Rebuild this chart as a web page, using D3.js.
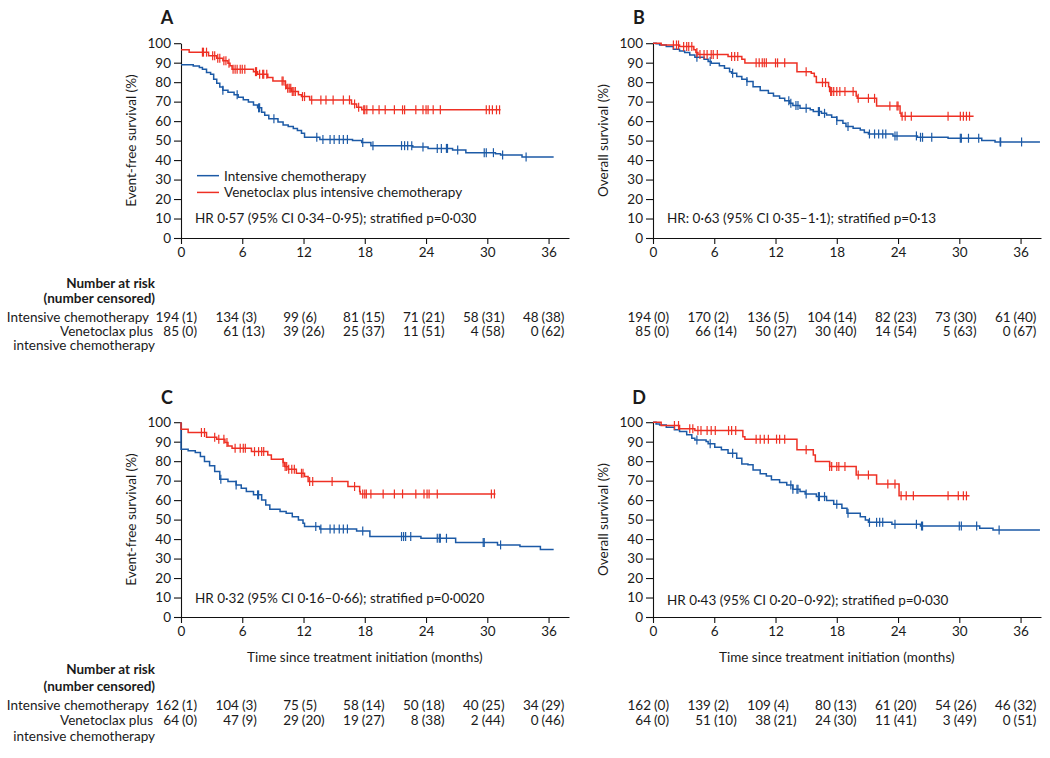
<!DOCTYPE html>
<html><head><meta charset="utf-8">
<script src="https://cdn.jsdelivr.net/npm/d3@7"></script>
<style>
body{margin:0;background:#fff;}
svg text{font-family:Lato,"Open Sans",sans-serif;fill:#1a1a1a;}
</style></head>
<body>
<svg id="chart" width="1050" height="758"></svg>
<script>
// ---------- DATA ----------
const xTicks = [0, 6, 12, 18, 24, 30, 36];
const yTicks = [0, 10, 20, 30, 40, 50, 60, 70, 80, 90, 100];
const groupNames = ["Intensive chemotherapy", "Venetoclax plus intensive chemotherapy"];

// Panel A: event-free survival, all patients
const A_chemoSteps = [[0,89],[1.2,88.3],[1.8,87.5],[2.1,86.6],[2.5,85],[2.9,84],[3.2,81.5],[3.5,79.5],[3.8,77.5],[4.1,75.8],[4.6,74.8],[5.2,73.5],[5.6,72.3],[6.1,71],[6.6,69.8],[7.1,68.3],[7.5,66.8],[7.9,64.5],[8.2,63],[8.6,61.2],[9.5,59.5],[10,58],[10.5,57.2],[11,56.2],[11.4,55.2],[11.8,53.8],[12.1,51.7],[13.6,50.6],[16.8,50],[17.7,49],[18.6,47.4],[22.7,46.7],[24.2,46],[26.6,45.2],[27.9,43.8],[30.8,43.2],[31.3,42.6],[33.4,41.6]];
const A_chemoEnd = 36.5;
const A_chemoCens = [4.1,5.5,7.6,7.7,9.1,13.3,13.9,14.6,15.0,15.5,15.9,16.3,17.8,18.8,21.6,21.9,22.2,22.6,23.7,25.1,25.5,26.0,26.1,27.1,29.7,29.9,30.6,31.5,33.8];
const A_venSteps = [[0,96.6],[0.8,95.4],[2.7,93.5],[3.5,92.3],[4.1,91],[4.6,89.7],[4.8,88.4],[5.0,86.6],[7.1,85.4],[7.5,84],[8.5,82.4],[9.0,80.6],[10.2,78.6],[10.3,76.9],[10.8,75.2],[11.5,73.5],[11.8,72.6],[12.6,70.9],[16.7,68.8],[17.2,67.1],[17.7,65.8]];
const A_venEnd = 31.3;
const A_venCens = [2.1,2.2,2.5,3.1,3.3,3.6,3.8,4.2,4.4,4.7,5.1,5.3,5.5,5.8,6.0,6.25,7.3,7.4,7.7,8.0,8.1,8.4,9.9,10.0,10.25,10.45,10.6,10.75,10.9,11.05,11.2,11.9,12.1,12.8,13.7,14.2,14.9,15.9,16.5,17.0,17.4,17.9,18.0,18.2,18.8,19.4,20.0,20.9,21.7,21.9,23.0,23.7,24.0,24.2,24.7,25.4,29.9,30.2,30.5,30.9,31.2];

// Panel B: overall survival, all patients
const B_chemoSteps = [[0,100],[0.3,99.7],[0.65,99.1],[1.3,98.3],[2.0,96.9],[2.6,96],[3.1,95.2],[3.6,94],[4.1,92.8],[5.0,91.8],[5.4,90.6],[5.7,89.7],[6.5,88.4],[7.0,87.2],[7.5,85.4],[7.7,84.6],[8.2,82.9],[8.7,81.5],[9.2,80.3],[9.8,77.7],[10.5,75.7],[11.3,74.3],[11.8,72.9],[12.4,71.7],[12.9,70.5],[13.4,69.2],[13.7,68],[14.4,66.6],[15.4,65.8],[15.7,64.9],[16.5,64],[17,63.2],[17.5,62],[18,60.3],[18.6,58.9],[18.9,57.2],[19.6,56.3],[20.3,55.5],[20.7,54.1],[21.1,53.4],[23.5,52.4],[25.9,51.7],[28.9,51.2],[32.2,50],[33.5,49.3]];
const B_chemoEnd = 37.9;
const B_chemoCens = [4.3,5.6,7.8,9.2,13.3,13.5,14.0,14.2,15.0,16.2,16.3,16.8,18.0,19.1,21.2,21.7,22.1,22.5,22.8,23.7,23.9,25.8,26.2,26.4,27.3,30.1,30.2,30.9,31.9,34.0,34.05,36.1];
const B_venSteps = [[0,100],[0.8,99.1],[2.6,98.3],[4.0,96.6],[4.2,95.2],[4.4,94.2],[7.35,93.2],[8.7,91.8],[9.0,89.9],[14.1,85.4],[15.5,84.6],[15.8,82.9],[16.0,79.8],[17.2,77.7],[17.3,75.2],[19.9,72.9],[20.0,71.7],[21.9,67.8],[24.2,64],[24.3,62.5]];
const B_venEnd = 31.4;
const B_venCens = [2.0,2.3,2.5,3.0,3.3,3.5,3.8,4.3,4.6,5.0,5.3,5.7,5.9,6.3,7.7,8.0,8.3,10.1,10.4,10.7,10.9,11.1,12.0,12.2,12.9,15.0,16.6,16.9,17.4,17.5,17.7,18.0,18.3,18.8,19.6,20.1,21.1,21.7,23.2,23.9,24.0,24.4,24.7,25.3,28.9,30.1,30.4,30.7,31.0];

// Panel C: event-free survival, subgroup
const C_chemoSteps = [[0,100],[0,86.1],[0.7,85.4],[1.4,84.4],[1.9,82.4],[2.3,79.8],[2.8,77.6],[3.3,74.7],[3.8,70.7],[4.6,69.5],[5.4,67.8],[5.9,66.1],[6.4,64.4],[7.1,62.7],[7.9,60.1],[8.3,57.5],[8.7,55.3],[9.7,54.1],[10.3,53.3],[10.9,51.5],[11.5,49.8],[11.95,48.1],[12.1,46.4],[13.6,45.2],[17.2,44.2],[18.5,41.3],[23.5,40.4],[26.9,38.2],[31,37],[33.2,36.2],[35.2,34.6]];
const C_chemoEnd = 36.5;
const C_chemoCens = [3.9,5.4,7.5,7.6,13.2,13.7,14.6,15.0,15.5,15.9,16.3,17.8,21.6,21.8,22.0,22.5,25.1,25.3,25.4,26.0,29.6,29.7,31.3];
const C_venSteps = [[0,100],[0,96.4],[0.7,94.7],[2.5,92.3],[3.5,91.3],[4.3,89.6],[4.6,87.8],[5.0,86.6],[6.9,84.9],[8.5,83.2],[8.85,81.0],[10.0,79.3],[10.15,77.2],[10.5,75.8],[11.3,73.8],[12.1,72.1],[12.45,69.5],[16.35,67],[17.5,64.4],[17.55,63.2]];
const C_venEnd = 30.8;
const C_venCens = [2.0,2.3,3.3,3.7,4.2,4.5,5.3,5.8,6.1,6.3,7.2,7.6,7.9,8.1,10.0,10.2,10.35,10.55,10.85,11.1,11.8,11.95,12.6,12.9,14.8,17.0,17.8,18.0,18.15,18.6,19.8,20.9,21.7,23.0,23.8,24.1,24.3,25.1,30.4,30.7];

// Panel D: overall survival, subgroup
const D_chemoSteps = [[0,100],[0.3,99.1],[0.65,98.6],[1.3,97.4],[2.1,96.1],[2.6,95.2],[3.3,93.5],[3.8,91.8],[4.1,90.9],[5.2,90.1],[5.4,88.9],[6.05,87.2],[6.7,85.8],[7.35,84.1],[8.2,81.5],[8.7,78.6],[9.3,78.1],[9.8,75.5],[10.5,73.5],[11.1,72.4],[11.6,70.4],[12.4,69],[13.1,67.8],[13.7,65.6],[14.4,64.4],[14.9,63.2],[16.0,61.8],[17.0,59.8],[17.7,57.9],[18.5,55.8],[19,53.3],[20.3,51.5],[20.8,49.8],[21.1,48.6],[23.4,47.6],[26.2,46.7],[32,45.5],[33.3,44.7]];
const D_chemoEnd = 37.9;
const D_chemoCens = [4.3,5.6,7.8,13.5,13.7,14.1,14.2,15.0,16.2,16.3,16.8,18.0,19.1,21.2,21.9,22.2,22.5,23.7,25.8,26.3,26.4,30.0,30.2,31.7,33.9];
const D_venSteps = [[0,100],[0.8,98.3],[2.6,96.6],[4.1,95.7],[8.8,92.5],[9.0,91.3],[14.1,85.8],[15.7,83.2],[15.9,79.8],[17.3,77.2],[19.9,72.9],[21.9,68.3],[24.1,62.2]];
const D_venEnd = 31.0;
const D_venCens = [2.1,2.5,3.6,3.9,4.4,4.7,5.3,5.7,6.1,7.4,7.7,8.1,10.1,10.5,10.9,11.3,12.1,12.4,12.9,15.0,17.3,17.5,18.0,18.2,18.8,20.1,21.1,23.0,23.7,24.3,24.8,25.5,28.9,29.9,30.4,30.7];

// Numbers at risk (number censored) at 0,6,...,36 months
const A_riskChemo = [[194,1],[134,3],[99,6],[81,15],[71,21],[58,31],[48,38]];
const A_riskVen   = [[85,0],[61,13],[39,26],[25,37],[11,51],[4,58],[0,62]];
const B_riskChemo = [[194,0],[170,2],[136,5],[104,14],[82,23],[73,30],[61,40]];
const B_riskVen   = [[85,0],[66,14],[50,27],[30,40],[14,54],[5,63],[0,67]];
const C_riskChemo = [[162,1],[104,3],[75,5],[58,14],[50,18],[40,25],[34,29]];
const C_riskVen   = [[64,0],[47,9],[29,20],[19,27],[8,38],[2,44],[0,46]];
const D_riskChemo = [[162,0],[139,2],[109,4],[80,13],[61,20],[54,26],[46,32]];
const D_riskVen   = [[64,0],[51,10],[38,21],[24,30],[11,41],[3,49],[0,51]];

const hrTexts = {
  A: "HR 0·57 (95% CI 0·34–0·95); stratified p=0·030",
  B: "HR: 0·63 (95% CI 0·35–1·1); stratified p=0·13",
  C: "HR 0·32 (95% CI 0·16–0·66); stratified p=0·0020",
  D: "HR 0·43 (95% CI 0·20–0·92); stratified p=0·030"
};

// ---------- DRAWING ----------
const BLUE = "#1c5aa6", RED = "#ee3024";
const svg = d3.select("#chart");
const FS = 13.5;

function survAt(steps, t) {
  let v = steps[0][1];
  for (const s of steps) { if (s[0] <= t) v = s[1]; else break; }
  return v;
}

function panel(cfg) {
  const g = svg.append("g");
  const x = d3.scaleLinear().domain([0, 38]).range([cfg.x0, cfg.x0 + 38 * 10.21]);
  const y = d3.scaleLinear().domain([0, 100]).range([cfg.yBottom, cfg.yBottom - 194.8]);

  const xa = g.append("g").attr("transform", `translate(0,${cfg.yBottom})`)
    .call(d3.axisBottom(x).tickValues(xTicks).tickSize(6).tickPadding(3).tickSizeOuter(0));
  const ya = g.append("g").attr("transform", `translate(${cfg.x0},0)`)
    .call(d3.axisLeft(y).tickValues(yTicks).tickSize(7).tickPadding(3).tickSizeOuter(0));
  [xa, ya].forEach(a => {
    a.select(".domain").attr("stroke", "#111").attr("stroke-width", 1.1);
    a.selectAll(".tick line").attr("stroke", "#111").attr("stroke-width", 1.1);
    a.selectAll("text").attr("font-size", FS).attr("font-family", "Lato").attr("fill", "#1a1a1a");
  });

  const line = d3.line().x(d => x(d[0])).y(d => y(d[1])).curve(d3.curveStepAfter);
  cfg.series.forEach(s => {
    const pts = s.steps.concat([[s.end, s.steps[s.steps.length - 1][1]]]);
    g.append("path").attr("d", line(pts)).attr("fill", "none")
      .attr("stroke", s.color).attr("stroke-width", 1.5);
    g.selectAll(null).data(s.cens).enter().append("line")
      .attr("x1", d => x(d)).attr("x2", d => x(d))
      .attr("y1", d => y(survAt(s.steps, d)) - 4.5)
      .attr("y2", d => y(survAt(s.steps, d)) + 4.5)
      .attr("stroke", s.color).attr("stroke-width", 1.2);
  });

  // panel letter
  g.append("text").attr("x", cfg.x0 - 14).attr("y", cfg.letterY)
    .attr("text-anchor", "middle").attr("font-weight", "bold").attr("font-size", 18)
    .text(cfg.letter);

  // y title
  g.append("text")
    .attr("transform", `translate(${cfg.x0 - 50},${y(50)}) rotate(-90)`)
    .attr("text-anchor", "middle").attr("dominant-baseline", "central")
    .attr("font-size", FS).text(cfg.yTitle);

  // HR text
  g.append("text").attr("x", cfg.x0 + 14).attr("y", y(cfg.hrY))
    .attr("dominant-baseline", "central").attr("font-size", FS).text(cfg.hr);

  // legend
  if (cfg.legend) {
    [[BLUE, groupNames[0], 32], [RED, groupNames[1], 23.4]].forEach(([c, t, v]) => {
      g.append("line").attr("x1", cfg.x0 + 16).attr("x2", cfg.x0 + 38)
        .attr("y1", y(v)).attr("y2", y(v)).attr("stroke", c).attr("stroke-width", 1.5);
      g.append("text").attr("x", cfg.x0 + 43).attr("y", y(v))
        .attr("dominant-baseline", "central").attr("font-size", FS).text(t);
    });
  }

  // x title
  if (cfg.xTitle) {
    g.append("text").attr("x", x(18)).attr("y", cfg.yBottom + 40)
      .attr("text-anchor", "middle").attr("dominant-baseline", "central")
      .attr("font-size", FS).text(cfg.xTitle);
  }

  // risk table
  const xr = d3.scaleLinear().domain([0, 36]).range([x(0) + 1, x(36) - 7]);
  [[cfg.riskChemo, cfg.rowY[2]], [cfg.riskVen, cfg.rowY[3]]].forEach(([rows, ry]) => {
    rows.forEach((r, i) => {
      const t = xTicks[i];
      g.append("text").attr("x", xr(t) - 3).attr("y", ry).attr("text-anchor", "end")
        .attr("dominant-baseline", "central").attr("font-size", FS).text(r[0]);
      g.append("text").attr("x", xr(t)).attr("y", ry)
        .attr("dominant-baseline", "central").attr("font-size", FS).text(`(${r[1]})`);
    });
  });
  if (cfg.rowLabels) {
    const labs = [["Number at risk", true, cfg.rowY[0], 26], ["(number censored)", true, cfg.rowY[1], 26],
      ["Intensive chemotherapy", false, cfg.rowY[2], 32], ["Venetoclax plus", false, cfg.rowY[3], 28],
      ["intensive chemotherapy", false, cfg.rowY[4], 26]];
    labs.forEach(([t, b, yy, off]) => {
      g.append("text").attr("x", cfg.x0 - off).attr("y", yy).attr("text-anchor", "end")
        .attr("dominant-baseline", "central").attr("font-size", FS)
        .attr("font-weight", b ? "bold" : "normal").text(t);
    });
  }
}

panel({letter: "A", x0: 181, yBottom: 238, letterY: 24, yTitle: "Event-free survival (%)",
  hr: hrTexts.A, hrY: 10.2, legend: true,
  series: [{steps: A_chemoSteps, end: A_chemoEnd, cens: A_chemoCens, color: BLUE},
           {steps: A_venSteps, end: A_venEnd, cens: A_venCens, color: RED}],
  riskChemo: A_riskChemo, riskVen: A_riskVen, rowLabels: true, rowY: [283, 298, 317, 331, 345]});
panel({letter: "B", x0: 653, yBottom: 238, letterY: 24, yTitle: "Overall survival (%)",
  hr: hrTexts.B, hrY: 10.2,
  series: [{steps: B_chemoSteps, end: B_chemoEnd, cens: B_chemoCens, color: BLUE},
           {steps: B_venSteps, end: B_venEnd, cens: B_venCens, color: RED}],
  riskChemo: B_riskChemo, riskVen: B_riskVen, rowY: [283, 298, 317, 331, 345]});
panel({letter: "C", x0: 181, yBottom: 617, letterY: 404, yTitle: "Event-free survival (%)",
  hr: hrTexts.C, hrY: 9.5, xTitle: "Time since treatment initiation (months)",
  series: [{steps: C_chemoSteps, end: C_chemoEnd, cens: C_chemoCens, color: BLUE},
           {steps: C_venSteps, end: C_venEnd, cens: C_venCens, color: RED}],
  riskChemo: C_riskChemo, riskVen: C_riskVen, rowLabels: true, rowY: [669, 686, 705, 720, 736]});
panel({letter: "D", x0: 653, yBottom: 617, letterY: 404, yTitle: "Overall survival (%)",
  hr: hrTexts.D, hrY: 8.5, xTitle: "Time since treatment initiation (months)",
  series: [{steps: D_chemoSteps, end: D_chemoEnd, cens: D_chemoCens, color: BLUE},
           {steps: D_venSteps, end: D_venEnd, cens: D_venCens, color: RED}],
  riskChemo: D_riskChemo, riskVen: D_riskVen, rowY: [669, 686, 705, 720, 736]});
</script>
</body></html>
